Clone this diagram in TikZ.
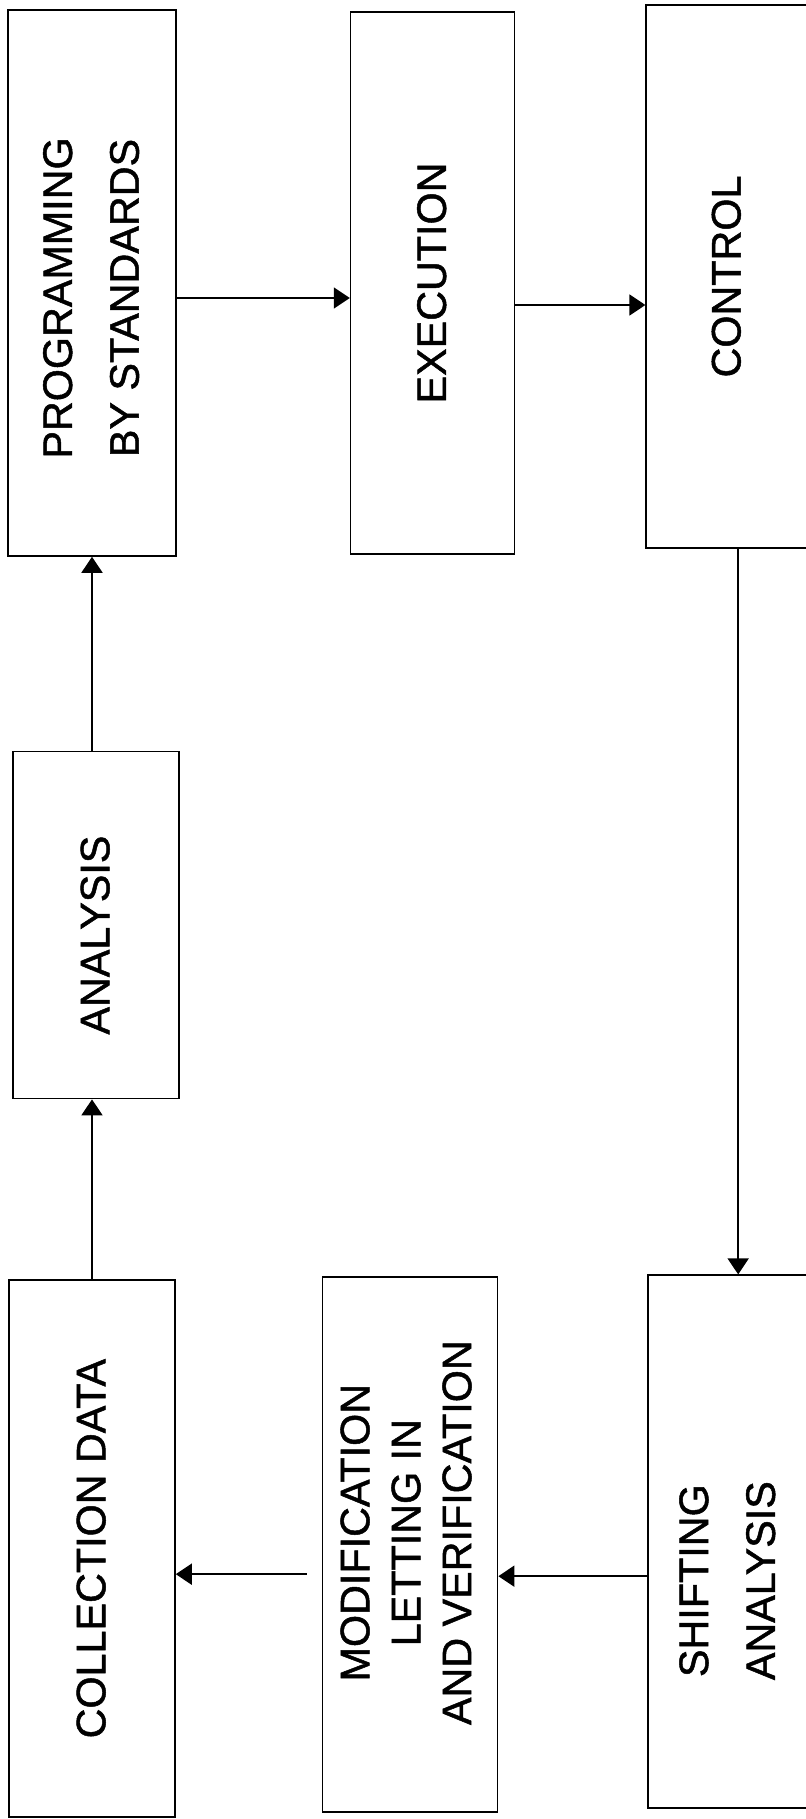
\documentclass[tikz,border=0pt]{standalone}
\usepackage{fontspec}
\setmainfont{Liberation Sans}[FakeBold=1.2]
\usepackage{graphicx}
\usetikzlibrary{arrows.meta, positioning}

\newcommand{\uptext}[2][0pt]{\rotatebox{90}{\begin{tabular}{@{}c@{}}#2\end{tabular}\hspace{#1}}}

\begin{document}
\begin{tikzpicture}[
    node distance=3cm,
    box/.style={draw, line width=0.9pt, inner sep=0pt, minimum width=3.3cm, font=\fontsize{23.5}{38}\selectfont},
    arrow/.style={-{Triangle[length=0.32cm, width=0.42cm]}, line width=1pt}
]
\useasboundingbox (0,0) rectangle (16.12,-36.38);

\node[box, minimum width=3.36cm, minimum height=10.92cm] (prog) at (1.84,-5.66) {\uptext[0.6cm]{PROGRAMMING\\BY STANDARDS}};
\node[box, minimum width=3.28cm, minimum height=10.84cm, right=3.46cm of prog] (exec) {\uptext{EXECUTION}};
\node[box, minimum width=3.24cm, minimum height=10.86cm, right=2.6cm of exec, yshift=0.13cm] (ctrl) {\uptext{CONTROL}};
\node[box, minimum width=3.32cm, minimum height=6.94cm, below=3.88cm of prog, xshift=0.08cm] (anal) {\uptext[0.4cm]{ANALYSIS}};
\node[box, minimum width=3.32cm, minimum height=10.74cm, below=3.6cm of anal, xshift=-0.08cm] (coll) {\uptext{COLLECTION DATA}};
\node[box, minimum width=3.5cm, minimum height=10.7cm, right=2.92cm of coll, yshift=0.08cm, font=\fontsize{23.5}{29}\selectfont] (modif) {\uptext[-0.48cm]{MODIFICATION\\LETTING IN\\AND VERIFICATION}};
\node[box, minimum width=3.2cm, minimum height=10.66cm, right=2.98cm of modif, yshift=0.06cm] (shift) {\uptext[1.56cm]{SHIFTING\\ANALYSIS}};

\draw[arrow] (coll.north) -- (coll.north |- anal.south);
\draw[arrow] (anal.north -| prog.south) -- (prog.south);
\draw[arrow] ([yshift=-0.3cm]prog.east) -- ([yshift=-0.3cm]prog.east -| exec.west);
\draw[arrow] ([yshift=-0.44cm]exec.east) -- ([yshift=-0.44cm]exec.east -| ctrl.west);
\draw[arrow] ([xshift=0.22cm]ctrl.south) -- ([xshift=0.22cm]ctrl.south |- shift.north);
\draw[arrow] ([yshift=-0.69cm]shift.west) -- ([yshift=-0.69cm]shift.west -| modif.east);
\draw[arrow] ([xshift=-0.3cm, yshift=-0.59cm]modif.west) -- ([yshift=-0.59cm]modif.west -| coll.east);

\end{tikzpicture}
\end{document}
